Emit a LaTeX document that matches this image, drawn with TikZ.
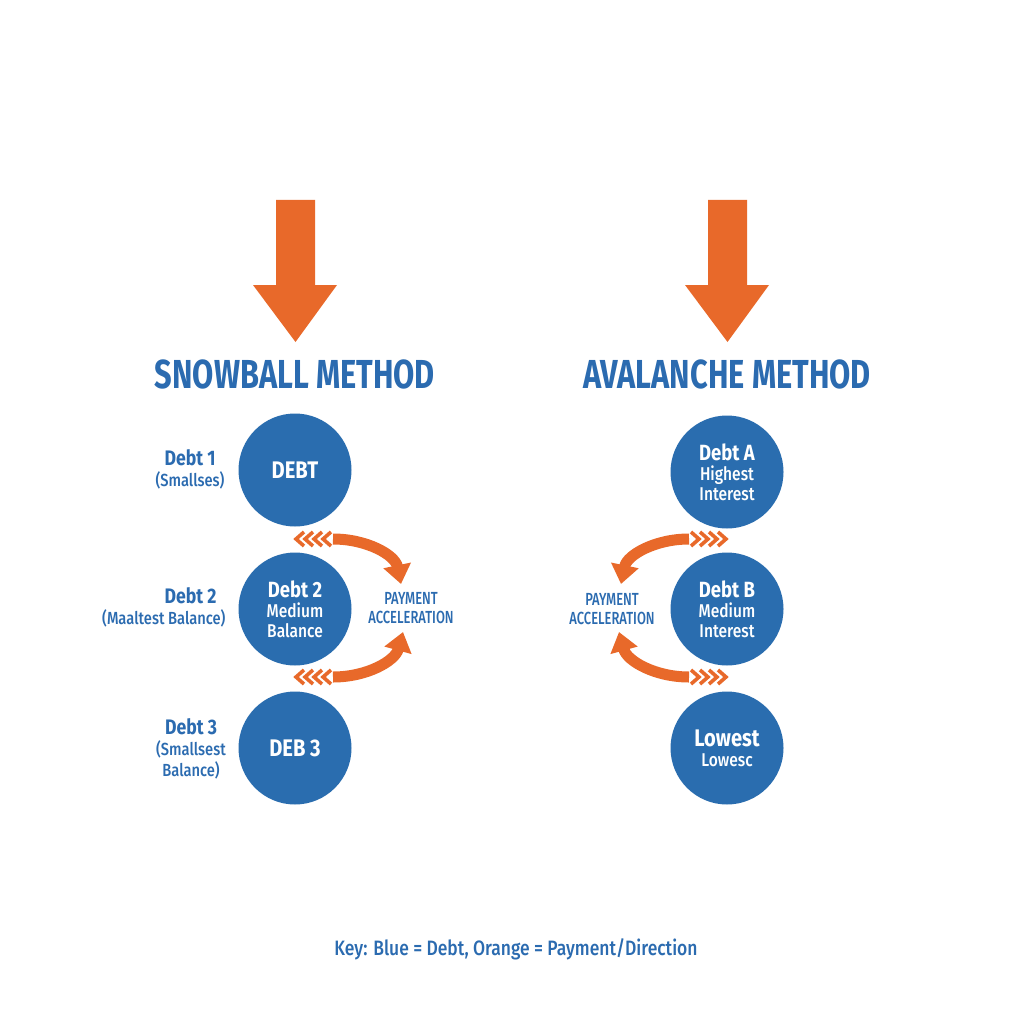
\documentclass[tikz,border=0pt]{standalone}
\usepackage{fontspec}
\setmainfont{Fira Sans}
\newfontfamily\bodyf[FakeStretch=0.84]{Fira Sans}
\newfontfamily\titlef[FakeStretch=0.76]{Fira Sans}
\IfFontExistsTF{Fira Sans Medium}{\newfontfamily\medf[FakeStretch=0.84]{Fira Sans Medium}}{\newfontfamily\medf[FakeStretch=0.84]{Fira Sans}}
\IfFontExistsTF{Fira Sans Medium}{\newfontfamily\medt[FakeStretch=0.74]{Fira Sans Medium}}{\newfontfamily\medt[FakeStretch=0.74]{Fira Sans}}
\usetikzlibrary{arrows.meta}
\definecolor{cblue}{HTML}{2A6DAF}
\definecolor{tblue}{HTML}{2B6BB0}
\definecolor{orng}{HTML}{E8692A}
\newcommand\accarrows[1]{%
  \coordinate (#1ua) at (38,539);
  \coordinate (#1ub) at (106,584);
  \coordinate (#1la) at (38,677);
  \coordinate (#1lb) at (108,632);
  \draw[accarc] (#1ua) .. controls (72,539) and (100,555) .. (#1ub);
  \draw[accarc] (#1la) .. controls (72,677) and (100,661) .. (#1lb);
  \foreach \i in {0,1,2,3}{
    \draw[chev] ({9+\i*9},532) -- ({1+\i*9},539) -- ({9+\i*9},546);
    \draw[chev] ({9+\i*9},670) -- ({1+\i*9},677) -- ({9+\i*9},684);
  }%
}
\begin{document}
\begin{tikzpicture}[x=1pt,y=-1pt,
  circ/.style={circle, fill=cblue, minimum size=113pt, inner sep=0pt, text=white, align=center, font=\medf\fontsize{18.5}{20}\selectfont},
  lbl/.style={text=tblue, align=center, font=\medf\fontsize{17.5}{21}\selectfont},
  ttl/.style={text=tblue, font=\titlef\bfseries\fontsize{40.5}{40}\selectfont},
  pay/.style={text=tblue, align=center, font=\medt\fontsize{17.5}{19}\selectfont},
  accarc/.style={draw=orng, line width=11pt, -{Triangle[width=27pt,length=19pt]}},
  chev/.style={draw=orng, line width=3.6pt, line join=miter}]
\useasboundingbox[fill=white] (0,0) rectangle (1024,1024);
% big arrows
\fill[orng] (276,200) -- (315,200) -- (315,285) -- (337,285) -- (295.5,342) -- (253,285) -- (276,285) -- cycle;
\fill[orng] (708,200) -- (747,200) -- (747,285) -- (769,285) -- (727.5,342) -- (685,285) -- (708,285) -- cycle;
% titles
\node[ttl] (t1) at (295,374) {SNOWBALL METHOD};
\node[ttl] (t2) at (727,374) {AVALANCHE METHOD};
% circles left
\node[circ] (c1) at (295,470) {{\bodyf\bfseries\fontsize{24}{24}\selectfont DEBT}};
\node[circ] (c2) at (295,609) {{\bodyf\bfseries\fontsize{22}{22}\selectfont Debt 2}\\Medium\\Balance};
\node[circ] (c3) at (295,748) {{\bodyf\bfseries\fontsize{24}{24}\selectfont DEB 3}};
% circles right
\node[circ] (a1) at (727,472) {{\bodyf\bfseries\fontsize{22}{22}\selectfont Debt A}\\Highest\\Interest};
\node[circ] (a2) at (727,609) {{\bodyf\bfseries\fontsize{22}{22}\selectfont Debt B}\\Medium\\Interest};
\node[circ] (a3) at (727,748) {{\bodyf\bfseries\fontsize{24}{24}\selectfont Lowest}\\Lowesc};
% left labels
\node[lbl] (l1) at (190,469) {{\bodyf\bfseries\fontsize{21}{21}\selectfont Debt 1}\\(Smallses)};
\node[lbl, align=right, anchor=east] (l2) at (229,607) {{\bodyf\bfseries\fontsize{21}{21}\selectfont Debt 2}\hspace*{9pt}\\(Maaltest Balance)};
\node[lbl] (l3) at (191,749) {{\bodyf\bfseries\fontsize{21}{21}\selectfont Debt 3}\\(Smallsest\\Balance)};
% payment acceleration
\node[pay] (p1) at (411,608) {PAYMENT\\ACCELERATION};
\node[pay] (p2) at (612,609) {PAYMENT\\ACCELERATION};
% curved arrows
\begin{scope}[shift={(295,0)}]
\accarrows{L}
\end{scope}
\begin{scope}[shift={(727,0)}, xscale=-1]
\accarrows{R}
\end{scope}
% key
\node[text=tblue, font=\medf\fontsize{20.8}{20}\selectfont] (key) at (516,949) {Key: Blue = Debt, Orange = Payment/Direction};
\end{tikzpicture}
\end{document}
